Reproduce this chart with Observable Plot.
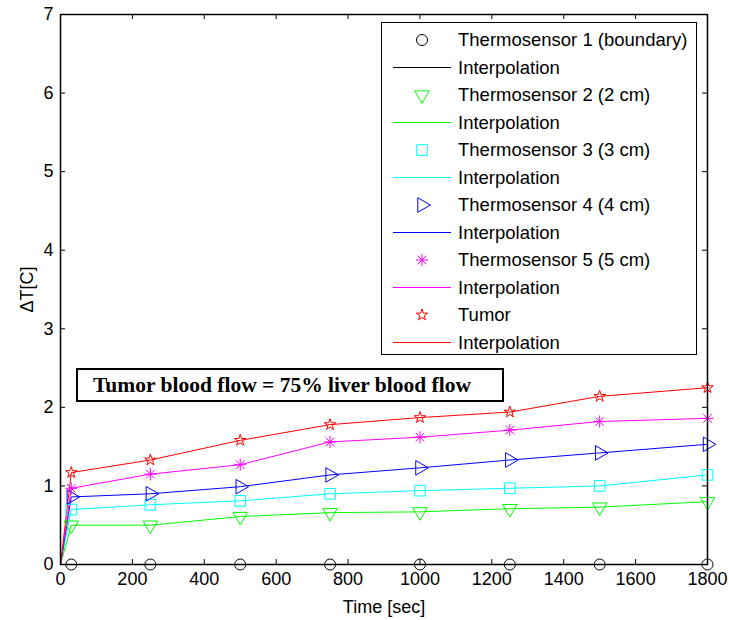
<!DOCTYPE html>
<html>
<head>
<meta charset="utf-8">
<script src="https://cdn.jsdelivr.net/npm/d3@7"></script>
<script src="https://cdn.jsdelivr.net/npm/@observablehq/plot@0.6"></script>
<style>
  body { margin: 0; background: #fff; }
  #wrap { position: relative; width: 729px; height: 620px; font-family: "Liberation Sans", Arial, sans-serif; }
  #legend { position: absolute; left: 381px; top: 22px; }
  #note {
    position: absolute; left: 76px; top: 368px; width: 428px; height: 34px;
    box-sizing: border-box; border: 2px solid #000; background: #fff;
    font-family: "Liberation Serif", "Times New Roman", serif; font-weight: bold;
    font-size: 21.5px; line-height: 31px; padding-left: 15px; white-space: nowrap;
  }
</style>
</head>
<body>
<div id="wrap"></div>
<script>
// Measurement times (s) shared by all sensors
const times = [30, 250, 500, 750, 1000, 1250, 1500, 1800];

// Temperature rise ΔT (°C) at each sensor
const sensor1 = [0, 0, 0, 0, 0, 0, 0, 0];
const sensor2 = [0.50, 0.50, 0.61, 0.66, 0.67, 0.71, 0.73, 0.80];
const sensor3 = [0.70, 0.76, 0.81, 0.90, 0.94, 0.97, 1.00, 1.14];
const sensor4 = [0.86, 0.90, 0.99, 1.14, 1.23, 1.33, 1.42, 1.53];
const sensor5 = [0.97, 1.15, 1.27, 1.56, 1.62, 1.71, 1.82, 1.86];
const tumor   = [1.17, 1.33, 1.58, 1.78, 1.87, 1.94, 2.14, 2.25];

// Series names and axis ticks
const seriesNames = ["Thermosensor 1 (boundary)", "Thermosensor 2 (2 cm)", "Thermosensor 3 (3 cm)",
                     "Thermosensor 4 (4 cm)", "Thermosensor 5 (5 cm)", "Tumor"];
const seriesValues = [sensor1, sensor2, sensor3, sensor4, sensor5, tumor];
const xTicks = [0, 200, 400, 600, 800, 1000, 1200, 1400, 1600, 1800];
const yTicks = [0, 1, 2, 3, 4, 5, 6, 7];
const lineLabel = "Interpolation";
const noteText = "Tumor blood flow = 75% liver blood flow";

// Styling per series: colour and marker
const styles = [
  {color: "#000000", symbol: "circle",   rotate: 0,   r: 5.5},
  {color: "#00ff00", symbol: "triangle", rotate: 180, r: 5.4},
  {color: "#00ffff", symbol: "square",   rotate: 0,   r: 6.0},
  {color: "#0000ff", symbol: "triangle", rotate: 90,  r: 5.4},
  {color: "#ff00ff", symbol: "asterisk8", rotate: 0,  r: 4.0},
  {color: "#ff0000", symbol: "star",     rotate: 0,   r: 3.6}
];

const series = seriesNames.map((name, k) => ({
  name,
  ...styles[k],
  points: times.map((t, i) => ({t, v: seriesValues[k][i]})),
  // interpolation curves start from the initial state (0 s, ΔT = 0)
  curve: [{t: 0, v: 0}, ...times.map((t, i) => ({t, v: seriesValues[k][i]}))]
}));

function markerMarks(s) {
  if (s.symbol === "asterisk8") {
    return [
      Plot.dot(s.points, {x: "t", y: "v", symbol: "plus", r: s.r, stroke: s.color, strokeWidth: 1}),
      Plot.dot(s.points, {x: "t", y: "v", symbol: "times", r: s.r, stroke: s.color, strokeWidth: 1})
    ];
  }
  return [Plot.dot(s.points, {x: "t", y: "v", symbol: s.symbol, rotate: s.rotate, r: s.r,
                              stroke: s.color, fill: "none", strokeWidth: 1})];
}

const W = 729, H = 620;
const margin = {top: 14, right: 22, bottom: 56, left: 60};
const innerW = W - margin.left - margin.right;
const innerH = H - margin.top - margin.bottom;
const tickLen = 5;
const plain = d => String(d);

const chart = Plot.plot({
  width: W,
  height: H,
  marginLeft: margin.left,
  marginRight: margin.right,
  marginTop: margin.top,
  marginBottom: margin.bottom,
  style: {fontFamily: "'Liberation Sans', Arial, sans-serif", fontSize: "18px", color: "#000", background: "#fff"},
  x: {domain: [0, 1800]},
  y: {domain: [0, 7]},
  marks: [
    ...series.map(s => Plot.line(s.curve, {x: "t", y: "v", stroke: s.color, strokeWidth: 1})),
    ...series.flatMap(markerMarks),
    // inward tick marks on all four sides of the box
    Plot.tickX(xTicks, {x: d => d, insetTop: innerH - tickLen, stroke: "#000"}),
    Plot.tickX(xTicks, {x: d => d, insetBottom: innerH - tickLen, stroke: "#000"}),
    Plot.tickY(yTicks, {y: d => d, insetRight: innerW - tickLen, stroke: "#000"}),
    Plot.tickY(yTicks, {y: d => d, insetLeft: innerW - tickLen, stroke: "#000"}),
    Plot.frame({stroke: "#000", strokeWidth: 1.5}),
    Plot.axisX(xTicks, {anchor: "bottom", tickSize: 0, tickPadding: 8, tickFormat: plain,
                        label: "Time [sec]", labelAnchor: "center", labelArrow: "none", labelOffset: 48}),
    Plot.axisY(yTicks, {anchor: "left", tickSize: 0, tickPadding: 7, tickFormat: plain,
                        label: "ΔT[C]", labelAnchor: "center", labelArrow: "none", labelOffset: 40})
  ]
});

const wrap = document.getElementById("wrap");
wrap.appendChild(chart);

// Annotation box
const note = document.createElement("div");
note.id = "note";
note.textContent = noteText;
wrap.appendChild(note);

// Legend: a marker row and an interpolation-line row for each series
const legendW = 316, legendH = 333, rowH = 27.5, rowTop = 18;
const legend = d3.create("svg")
  .attr("id", "legend")
  .attr("width", legendW)
  .attr("height", legendH)
  .style("font-family", "'Liberation Sans', Arial, sans-serif")
  .style("font-size", "18.5px");
legend.append("rect")
  .attr("x", 0.5).attr("y", 0.5)
  .attr("width", legendW - 1).attr("height", legendH - 1)
  .attr("fill", "#fff").attr("stroke", "#000");

const symbolTypes = {
  circle: d3.symbolCircle, triangle: d3.symbolTriangle, square: d3.symbolSquare,
  star: d3.symbolStar, plus: d3.symbolPlus, times: d3.symbolTimes
};

series.forEach((s, k) => {
  const ym = rowTop + 2 * k * rowH;
  const yl = ym + rowH;
  const g = legend.append("g").attr("transform", `translate(41,${ym})`);
  const syms = s.symbol === "asterisk8" ? ["plus", "times"] : [s.symbol];
  syms.forEach(name => {
    g.append("path")
      .attr("d", d3.symbol(symbolTypes[name], Math.PI * s.r * s.r)())
      .attr("transform", `rotate(${s.rotate})`)
      .attr("fill", "none")
      .attr("stroke", s.color);
  });
  legend.append("text").attr("x", 77).attr("y", ym).attr("dy", "0.35em").text(s.name);
  legend.append("line")
    .attr("x1", 12).attr("x2", 70).attr("y1", yl).attr("y2", yl)
    .attr("stroke", s.color);
  legend.append("text").attr("x", 77).attr("y", yl).attr("dy", "0.35em").text(lineLabel);
});

wrap.appendChild(legend.node());
</script>
</body>
</html>
